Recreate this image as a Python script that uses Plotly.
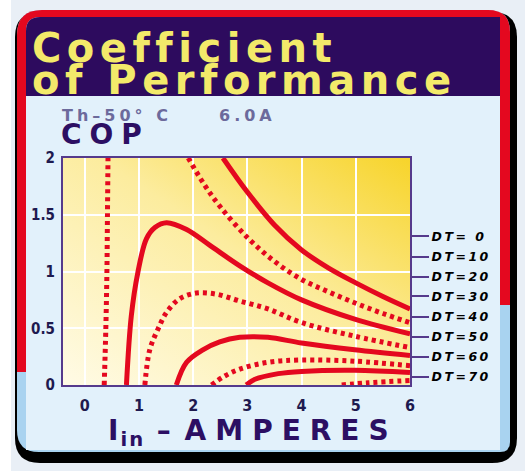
import base64
import plotly.graph_objects as go

# figure / plot geometry in pixels
W, H = 525, 471
L, R, T, B = 63, 115, 158, 86

RED = '#e4081f'
PURPLE = '#2d0b5e'
NAVY = '#1e1a4f'

# right-hand DT labels
DT_LABELS = ["DT= 0", "DT=10", "DT=20", "DT=30", "DT=40", "DT=50", "DT=60", "DT=70"]
DT_TICKS = [1.31, 1.13, 0.955, 0.78, 0.60, 0.425, 0.25, 0.07]

X_TICKS = [0, 1, 2, 3, 4, 5, 6]
Y_TICKS = [0, 0.5, 1, 1.5, 2]
Y_TICKTEXT = ["0", "0.5", "1", "1.5", "2"]

# COP curves (current in A, COP)
dt0_x = [2.55, 3.0, 3.5, 4.0, 4.5, 5.0, 5.5, 6.0]
dt0_y = [2.0, 1.70, 1.41, 1.19, 1.03, 0.90, 0.78, 0.67]

dt10a_x = [0.36, 0.39, 0.41, 0.42, 0.43]
dt10a_y = [0.0, 0.5, 1.0, 1.5, 2.0]
dt10b_x = [1.91, 2.2, 2.5, 3.0, 3.5, 4.0, 4.5, 5.0, 5.5, 6.0]
dt10b_y = [2.0, 1.77, 1.57, 1.30, 1.09, 0.93, 0.82, 0.72, 0.63, 0.55]

dt20_x = [0.77, 0.86, 0.98, 1.14, 1.30, 1.51, 1.88, 2.31, 2.86, 3.38, 4.0, 4.98, 6.0]
dt20_y = [0.0, 0.61, 0.99, 1.29, 1.39, 1.43, 1.37, 1.23, 1.05, 0.90, 0.75, 0.58, 0.45]

dt30_x = [1.11, 1.20, 1.35, 1.51, 1.75, 2.06, 2.43, 2.86, 3.38, 4.0, 4.98, 6.0]
dt30_y = [0.0, 0.31, 0.49, 0.64, 0.76, 0.81, 0.80, 0.74, 0.67, 0.55, 0.43, 0.33]

dt40_x = [1.69, 1.88, 2.18, 2.49, 2.86, 3.38, 4.0, 4.98, 6.0]
dt40_y = [0.0, 0.20, 0.31, 0.38, 0.42, 0.42, 0.37, 0.31, 0.26]

dt50_x = [2.34, 2.55, 2.86, 3.38, 4.0, 4.98, 6.0]
dt50_y = [0.0, 0.07, 0.14, 0.20, 0.22, 0.21, 0.17]

dt60_x = [2.98, 3.14, 3.57, 4.0, 4.98, 6.0]
dt60_y = [0.0, 0.05, 0.10, 0.12, 0.13, 0.11]

dt70_x = [4.74, 5.23, 6.0]
dt70_y = [0.0, 0.02, 0.04]

CURVES = [
    (dt0_x, dt0_y, 'solid'),
    (dt10a_x, dt10a_y, 'dot'),
    (dt10b_x, dt10b_y, 'dot'),
    (dt20_x, dt20_y, 'solid'),
    (dt30_x, dt30_y, 'dot'),
    (dt40_x, dt40_y, 'solid'),
    (dt50_x, dt50_y, 'dot'),
    (dt60_x, dt60_y, 'solid'),
    (dt70_x, dt70_y, 'dot'),
]


def px(x):
    return (x - L) / (W - L - R)


def py(y):
    return (H - B - y) / (H - T - B)


def rrect(x0, y0, x1, y1, r=(0, 0, 0, 0)):
    """Rounded rect path in paper coords; r = (tl, tr, br, bl) in px."""
    tl, tr, br, bl = r
    pts = [
        f"M{px(x0 + tl)},{py(y0)}",
        f"L{px(x1 - tr)},{py(y0)}",
        f"Q{px(x1)},{py(y0)} {px(x1)},{py(y0 + tr)}",
        f"L{px(x1)},{py(y1 - br)}",
        f"Q{px(x1)},{py(y1)} {px(x1 - br)},{py(y1)}",
        f"L{px(x0 + bl)},{py(y1)}",
        f"Q{px(x0)},{py(y1)} {px(x0)},{py(y1 - bl)}",
        f"L{px(x0)},{py(y0 + tl)}",
        f"Q{px(x0)},{py(y0)} {px(x0 + tl)},{py(y0)}",
        "Z",
    ]
    return " ".join(pts)


def card_shape(path, color):
    return dict(type='path', path=path, xref='paper', yref='paper',
                fillcolor=color, line=dict(width=0), layer='below')


fig = go.Figure()

for xs, ys, style in CURVES:
    fig.add_trace(go.Scatter(
        x=xs, y=ys, mode='lines',
        line=dict(color=RED, width=5, shape='spline', smoothing=1.0,
                  dash='solid' if style == 'solid' else '4px,4px'),
        hoverinfo='skip', showlegend=False,
    ))

# empty trace so the right-hand DT axis is drawn
fig.add_trace(go.Scatter(x=[0], y=[0], yaxis='y2', mode='lines',
                         line=dict(width=0), hoverinfo='skip', showlegend=False))

# card decoration
shapes = [
    dict(type='rect', xref='paper', yref='paper', x0=px(0), x1=px(11), y0=py(0), y1=py(H),
         fillcolor='white', line=dict(width=0), layer='below'),
    card_shape(rrect(15, 12, 517, 463, (25, 25, 25, 25)), 'black'),
    card_shape(rrect(17, 10, 510, 452, (25, 22, 10, 22)), '#a9d3f0'),
    card_shape(rrect(17, 10, 510, 305, (25, 22, 0, 0)), RED),
    card_shape(rrect(17, 290, 26, 372), RED),
    card_shape(rrect(26, 17, 500, 450, (14, 0, 0, 0)), '#e2f1fb'),
    card_shape(rrect(26, 17, 500, 96, (14, 0, 0, 0)), PURPLE),
]

# plot background gradient
svg = ('<svg xmlns="http://www.w3.org/2000/svg" width="100" height="100" preserveAspectRatio="none">'
       '<defs><linearGradient id="g" x1="0" y1="1" x2="1" y2="0">'
       '<stop offset="0" stop-color="#fffbe6"/><stop offset="0.55" stop-color="#fcec9e"/>'
       '<stop offset="1" stop-color="#f7d42a"/></linearGradient></defs>'
       '<rect width="100" height="100" fill="url(#g)"/></svg>')
grad_src = 'data:image/svg+xml;base64,' + base64.b64encode(svg.encode()).decode()

bold_font = "DejaVu Sans, Arial Black, sans-serif"


def spaced(text, sp):
    return f'<span style="letter-spacing:{sp}px">{text}</span>'


annotations = [
    dict(text=spaced("Coefficient", 5.5), x=px(30), y=py(48), xanchor='left', yanchor='middle',
         font=dict(family=bold_font, size=40, color='#f3ea6a', weight='bold')),
    dict(text=spaced("of Performance", 5.5), x=px(30), y=py(80), xanchor='left', yanchor='middle',
         font=dict(family=bold_font, size=40, color='#f3ea6a', weight='bold')),
    dict(text=spaced("Th–50° C", 4), x=px(60), y=py(116), xanchor='left', yanchor='middle',
         font=dict(family=bold_font, size=16, color='#6c6a9c', weight='bold')),
    dict(text=spaced("6.0A", 4), x=px(217), y=py(116), xanchor='left', yanchor='middle',
         font=dict(family=bold_font, size=16, color='#6c6a9c', weight='bold')),
    dict(text=spaced("COP", 8), x=px(59), y=py(134), xanchor='left', yanchor='middle',
         font=dict(family=bold_font, size=28, color='#2c0f63', weight='bold')),
    dict(text=spaced("I<sub>in</sub> – ", 2) + spaced("AMPERES", 9), x=px(106), y=py(432),
         xanchor='left', yanchor='middle',
         font=dict(family=bold_font, size=28, color='#2c0f63', weight='bold')),
]
for a in annotations:
    a.update(xref='paper', yref='paper', showarrow=False)

tick_font = dict(family="Liberation Sans Narrow, DejaVu Sans Condensed, sans-serif",
                 size=16, color=NAVY, weight='bold')

fig.update_layout(
    width=W, height=H,
    margin=dict(l=L, r=R, t=T, b=B),
    paper_bgcolor='#e9eff6',
    plot_bgcolor='rgba(0,0,0,0)',
    shapes=shapes,
    annotations=annotations,
    images=[dict(source=grad_src, xref='x', yref='y', x=-0.4, y=2, sizex=6.4, sizey=2,
                 sizing='stretch', layer='below')],
    xaxis=dict(range=[-0.4, 6], tickvals=X_TICKS, ticks='', showgrid=True,
               gridcolor='white', gridwidth=2, zeroline=False,
               showline=True, linecolor='#553a8c', linewidth=2, mirror=True,
               tickfont=tick_font, ticklabelstandoff=5),
    yaxis=dict(range=[0, 2], tickvals=Y_TICKS, ticktext=Y_TICKTEXT, ticks='',
               showgrid=True, gridcolor='white', gridwidth=2, zeroline=False,
               showline=True, linecolor='#553a8c', linewidth=2, mirror=True,
               tickfont=dict(tick_font, size=15), ticklabelstandoff=3),
    yaxis2=dict(range=[0, 2], overlaying='y', side='right', tickvals=DT_TICKS,
                ticktext=[spaced(t, 2.5) for t in DT_LABELS],
                ticks='outside', ticklen=18, tickwidth=2, tickcolor='#553a8c',
                showgrid=False, zeroline=False, showline=False,
                tickfont=dict(family=bold_font, size=12.5, color='black',
                              weight='bold', style='italic')),
    hovermode=False,
)

# drop the default page margin so the card sits at the window's top-left
fig.write_html("out.html", config={'displayModeBar': False},
               post_script="document.body.style.margin='0';")
